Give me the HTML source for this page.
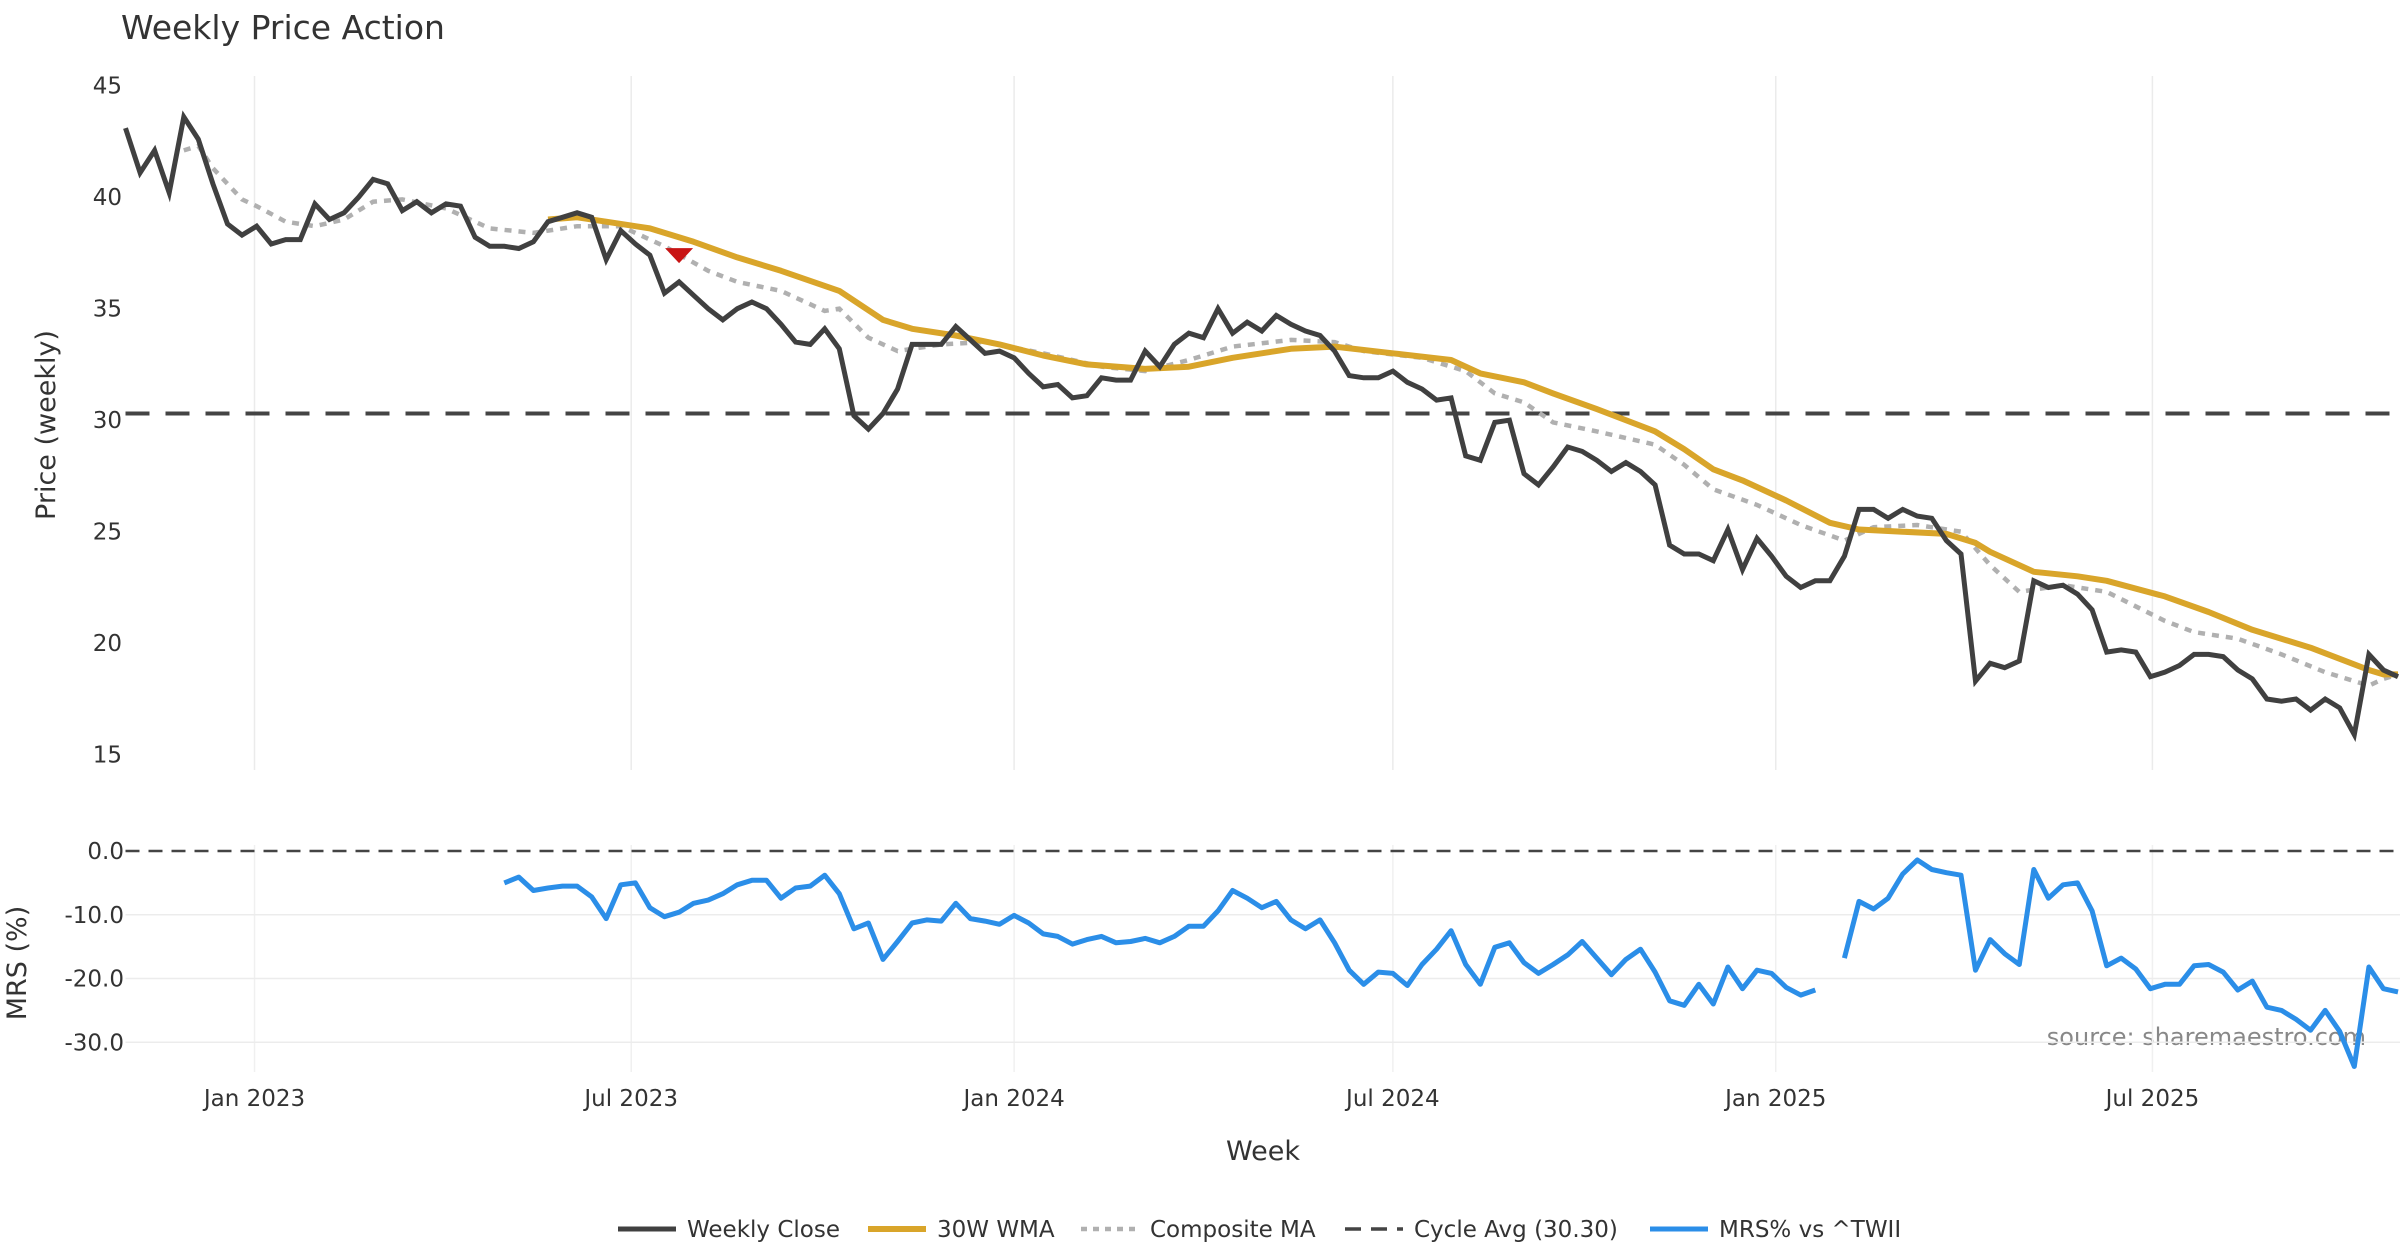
<!DOCTYPE html>
<html><head><meta charset="utf-8"><style>
html,body{margin:0;padding:0;background:#fff;}
svg{display:block;font-family:"DejaVu Sans","Liberation Sans",sans-serif;}
</style></head><body>
<svg id="chart" width="2400" height="1260" viewBox="0 0 2400 1260" xmlns="http://www.w3.org/2000/svg">
<text x="121" y="39" font-size="33" fill="#333">Weekly Price Action</text>
<text transform="translate(55,425) rotate(-90)" text-anchor="middle" font-size="27" fill="#333">Price (weekly)</text>
<text transform="translate(26,963) rotate(-90)" text-anchor="middle" font-size="27" fill="#333">MRS (%)</text>
<text x="1263" y="1160" text-anchor="middle" font-size="27" fill="#333">Week</text>
<text x="2366" y="1045" text-anchor="end" font-size="24" fill="#888">source: sharemaestro.com</text>
<g id="grid"></g><g id="marks"></g><g id="legend"></g>
</svg>
<script>
const closeVals=[43.1,41.1,42.1,40.2,43.6,42.6,40.6,38.8,38.3,38.7,37.9,38.1,38.1,39.7,39.0,39.3,40.0,40.8,40.6,39.4,39.8,39.3,39.7,39.6,38.2,37.8,37.8,37.7,38.0,38.9,39.1,39.3,39.1,37.2,38.5,37.9,37.4,35.7,36.2,35.6,35.0,34.5,35.0,35.3,35.0,34.3,33.5,33.4,34.1,33.2,30.2,29.6,30.3,31.4,33.4,33.4,33.4,34.2,33.6,33.0,33.1,32.8,32.1,31.5,31.6,31.0,31.1,31.9,31.8,31.8,33.1,32.4,33.4,33.9,33.7,35.0,33.9,34.4,34.0,34.7,34.3,34.0,33.8,33.1,32.0,31.9,31.9,32.2,31.7,31.4,30.9,31.0,28.4,28.2,29.9,30.0,27.6,27.1,27.9,28.8,28.6,28.2,27.7,28.1,27.7,27.1,24.4,24.0,24.0,23.7,25.1,23.3,24.7,23.9,23.0,22.5,22.8,22.8,23.9,26.0,26.0,25.6,26.0,25.7,25.6,24.6,24.0,18.3,19.1,18.9,19.2,22.8,22.5,22.6,22.2,21.5,19.6,19.7,19.6,18.5,18.7,19.0,19.5,19.5,19.4,18.8,18.4,17.5,17.4,17.5,17.0,17.5,17.1,15.9,19.5,18.8,18.5];
const wmaWeeks=[29,31,33,36,39,42,45,49,52,54,57,60,63,66,70,73,76,80,83,87,91,93,96,98,101,105,107,109,111,114,117,119,122,125,127,128,131,134,136,140,143,146,150,152,154,155,156];
const wmaVals=[39.0,39.1,38.9,38.6,38.0,37.3,36.7,35.8,34.5,34.1,33.8,33.4,32.9,32.5,32.3,32.4,32.8,33.2,33.3,33.0,32.7,32.1,31.7,31.2,30.5,29.5,28.7,27.8,27.3,26.4,25.4,25.1,25.0,24.9,24.5,24.1,23.2,23.0,22.8,22.1,21.4,20.6,19.8,19.3,18.8,18.6,18.6];
const compWeeks=[4,5,6,8,9,11,13,15,17,19,22,25,28,31,34,37,40,42,45,48,49,51,53,56,59,63,67,70,73,76,80,83,85,89,92,94,96,98,101,105,107,109,112,115,118,120,123,126,128,130,133,136,140,142,145,148,151,154,155,156];
const compVals=[42.1,42.3,41.3,39.9,39.6,38.9,38.7,39.0,39.8,39.9,39.5,38.6,38.4,38.7,38.7,37.8,36.7,36.2,35.8,34.9,35.0,33.7,33.1,33.4,33.5,33.0,32.4,32.2,32.7,33.3,33.6,33.5,33.1,32.8,32.2,31.2,30.8,29.9,29.5,28.9,28.0,26.9,26.2,25.3,24.6,25.2,25.3,25.0,23.5,22.3,22.6,22.3,21.0,20.5,20.2,19.5,18.7,18.1,18.4,18.6];
const mrsSeg1=[-5.0,-4.1,-6.2,-5.8,-5.5,-5.5,-7.2,-10.6,-5.3,-5.0,-8.9,-10.3,-9.6,-8.2,-7.7,-6.7,-5.3,-4.6,-4.6,-7.4,-5.8,-5.5,-3.8,-6.7,-12.2,-11.3,-17.0,-14.2,-11.3,-10.8,-11.0,-8.2,-10.6,-11.0,-11.5,-10.1,-11.3,-13.0,-13.4,-14.6,-13.9,-13.4,-14.4,-14.2,-13.7,-14.4,-13.4,-11.8,-11.8,-9.4,-6.2,-7.4,-8.9,-7.9,-10.8,-12.2,-10.8,-14.4,-18.7,-20.9,-19.0,-19.2,-21.1,-17.8,-15.4,-12.5,-17.8,-20.9,-15.1,-14.4,-17.5,-19.2,-17.8,-16.3,-14.2,-16.8,-19.4,-17.0,-15.4,-19.0,-23.5,-24.2,-20.9,-24.0,-18.2,-21.6,-18.7,-19.2,-21.4,-22.6,-21.8];
const mrsSeg2=[-16.8,-7.9,-9.1,-7.4,-3.6,-1.4,-2.9,-3.4,-3.8,-18.7,-13.9,-16.1,-17.8,-2.9,-7.4,-5.3,-5.0,-9.4,-18.0,-16.8,-18.5,-21.6,-20.9,-20.9,-18.0,-17.8,-19.0,-21.8,-20.4,-24.5,-25.0,-26.4,-28.1,-25.0,-28.3,-33.8,-18.2,-21.6,-22.1];
const mrsStart=26, mrsSeg2Start=118;
const cycleAvg=30.30;
const signalWeek=38, signalPrice=37.4;
const priceTicks=[15,20,25,30,35,40,45];
const mrsTicks=[0,-10,-20,-30];
const dateTicks=["2023-01-01","2023-07-01","2024-01-01","2024-07-01","2025-01-01","2025-07-01"];
const dateLabels=["Jan 2023","Jul 2023","Jan 2024","Jul 2024","Jan 2025","Jul 2025"];
const startDate="2022-10-31";

const NS="http://www.w3.org/2000/svg";
const X0=125.5, X1=2398, n=closeVals.length, step=(X1-X0)/(n-1);
const xi=i=>X0+i*step;
const xd=d=>X0+((new Date(d)-new Date(startDate))/86400000)*(step/7);
const yp=v=>85.7+(45-v)*22.3;
const ym=v=>851-v*6.376;
const grid=document.getElementById('grid'), marks=document.getElementById('marks'), leg=document.getElementById('legend');
function mk(tag,attrs,parent){const e=document.createElementNS(NS,tag);for(const k in attrs)e.setAttribute(k,attrs[k]);parent.appendChild(e);return e;}
function pathFrom(pts){return pts.map((p,i)=>(i?'L':'M')+p[0].toFixed(1)+','+p[1].toFixed(1)).join('');}

dateTicks.forEach((d,i)=>{
  const x=xd(d);
  const g1=mk('line',{x1:x,x2:x,y1:76,y2:770,stroke:'#ebebeb','stroke-width':1.5},grid);
  
  
  const g2=mk('line',{x1:x,x2:x,y1:845,y2:1072,stroke:'#f0f0f0','stroke-width':1.5},grid);
  
  
  const t=mk('text',{x:x,y:1106,'text-anchor':'middle','font-size':23,fill:'#333'},grid);
  t.textContent=dateLabels[i];
  
  
});
priceTicks.forEach(v=>{
  const t=mk('text',{x:122,y:yp(v)+8,'text-anchor':'end','font-size':23,fill:'#333'},grid);
  t.textContent=v;
  
  
});
mrsTicks.forEach(v=>{
  if(v!==0){const l=mk('line',{x1:X0,x2:2400,y1:ym(v),y2:ym(v),stroke:'#ececec','stroke-width':1.5},grid);
  
  }
  const t=mk('text',{x:124,y:ym(v)+8,'text-anchor':'end','font-size':23,fill:'#333'},grid);
  t.textContent=v.toFixed(1);
  
  
});
const z=mk('line',{x1:X0,x2:2400,y1:ym(0),y2:ym(0),stroke:'#444','stroke-width':2.5,'stroke-dasharray':'14,9'},marks);


const ca=mk('line',{x1:X0,x2:2400,y1:yp(cycleAvg),y2:yp(cycleAvg),stroke:'#444','stroke-width':4,'stroke-dasharray':'24,16'},marks);


const cm=mk('path',{d:pathFrom(compWeeks.map((w,i)=>[xi(w),yp(compVals[i])])),fill:'none',stroke:'#b0b0b0','stroke-width':4.5,'stroke-dasharray':'7,7'},marks);


const wm=mk('path',{d:pathFrom(wmaWeeks.map((w,i)=>[xi(w),yp(wmaVals[i])])),fill:'none',stroke:'#d9a52a','stroke-width':6,'stroke-linejoin':'round'},marks);


const cl=mk('path',{d:pathFrom(closeVals.map((v,i)=>[xi(i),yp(v)])),fill:'none',stroke:'#404040','stroke-width':5,'stroke-linejoin':'miter'},marks);


const sx=xi(signalWeek), sy=yp(signalPrice);
const tri=mk('path',{d:`M${sx-14},${sy-7}L${sx+14},${sy-7}L${sx},${sy+8}Z`,fill:'#c81414'},marks);


[[mrsSeg1,mrsStart],[mrsSeg2,mrsSeg2Start]].forEach(([seg,s])=>{
  const p=mk('path',{d:pathFrom(seg.map((v,i)=>[xi(s+i),ym(v)])),fill:'none',stroke:'#2b8ee8','stroke-width':5,'stroke-linejoin':'round'},marks);
  
  
});
const items=[["Weekly Close",'#404040',null,5,618],["30W WMA",'#d9a52a',null,6,868],["Composite MA",'#b0b0b0','6,6',4.5,1081],["Cycle Avg (30.30)",'#444','16,10',3.5,1345],["MRS% vs ^TWII",'#2b8ee8',null,5,1650]];
items.forEach(([lab,col,dash,w,x])=>{
  const g=mk('g',{},leg);
  
  
  const a={x1:x,x2:x+58,y1:1229,y2:1229,stroke:col,'stroke-width':w};
  if(dash)a['stroke-dasharray']=dash;
  mk('line',a,g);
  const t=mk('text',{x:x+69,y:1237,'font-size':23,fill:'#333'},g);
  t.textContent=lab;
});
</script>
</body></html>
